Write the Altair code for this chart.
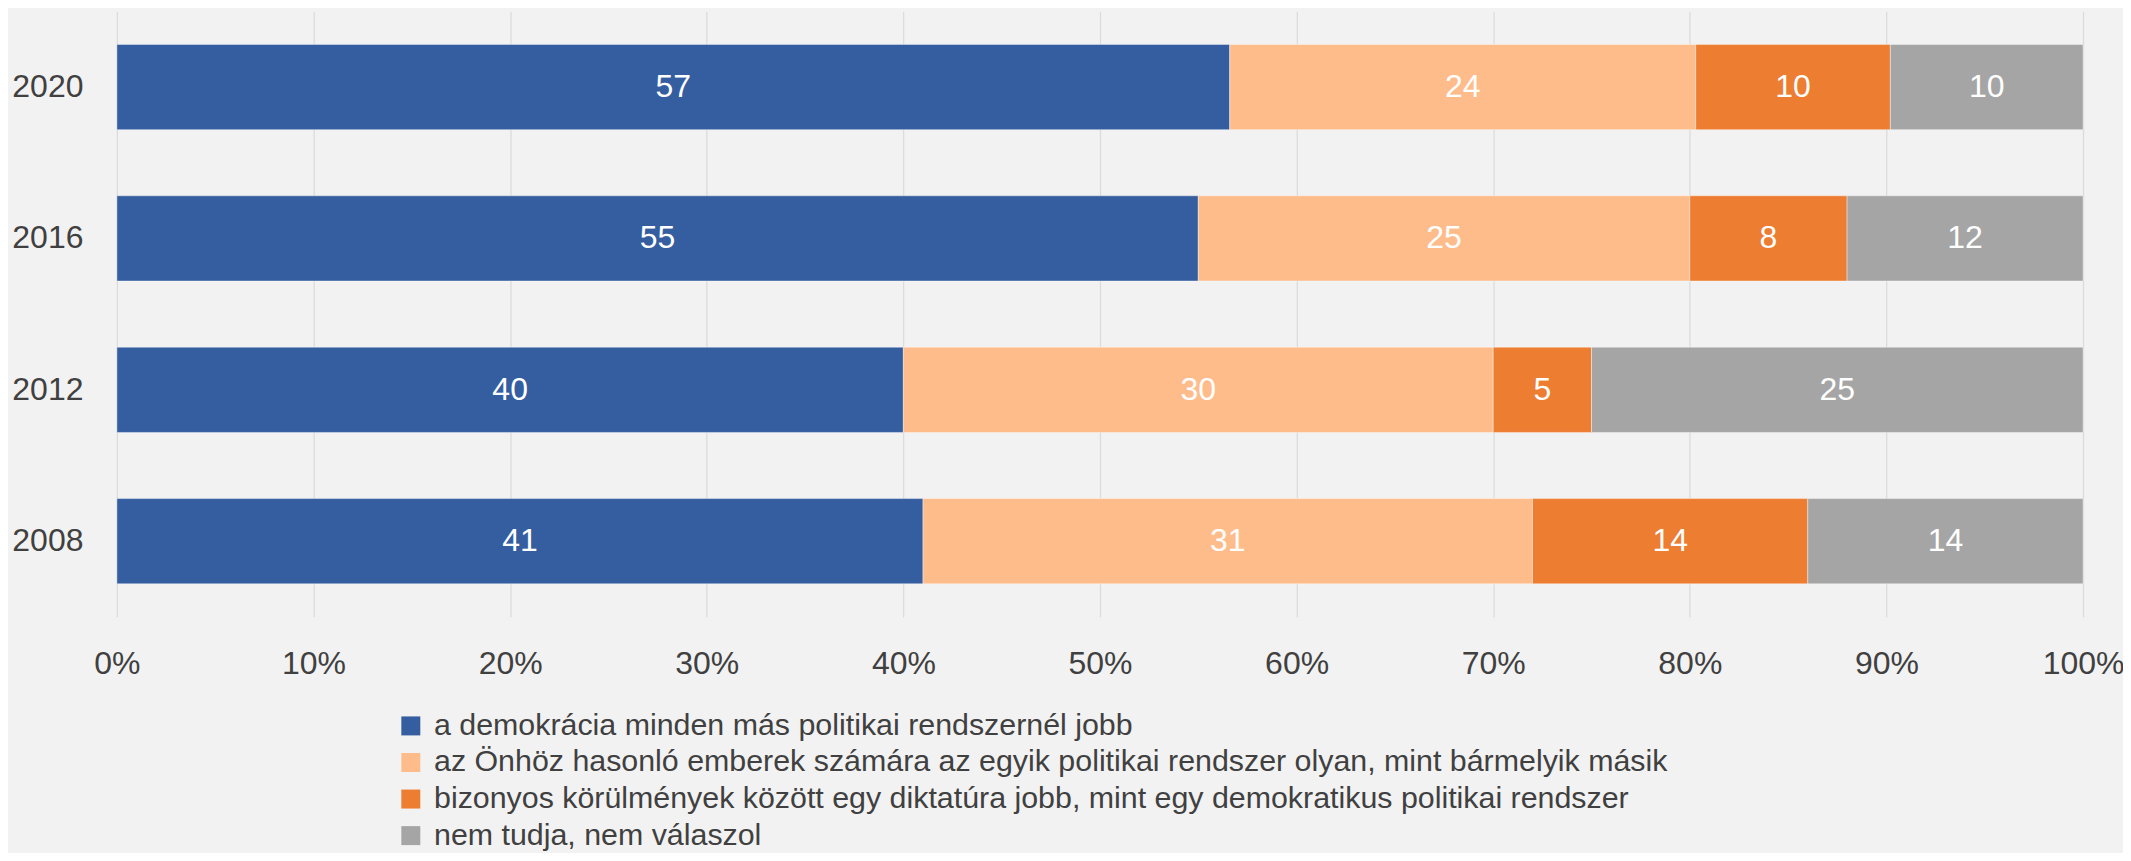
import altair as alt
import pandas as pd

years = ["2020", "2016", "2012", "2008"]
categories = [
    "a demokrácia minden más politikai rendszernél jobb",
    "az Önhöz hasonló emberek számára az egyik politikai rendszer olyan, mint bármelyik másik",
    "bizonyos körülmények között egy diktatúra jobb, mint egy demokratikus politikai rendszer",
    "nem tudja, nem válaszol",
]
colors = ["#355EA0", "#FFBC8B", "#ED7D31", "#A5A5A5"]

s_demo = [56.6, 55.0, 40.0, 41.0]
s_same = [23.7, 25.0, 30.0, 31.0]
s_dict = [9.9, 8.0, 5.0, 14.0]
s_na = [9.8, 12.0, 25.0, 14.0]
series = [s_demo, s_same, s_dict, s_na]

rows = []
for ci, (cat, vals) in enumerate(zip(categories, series)):
    for y, v in zip(years, vals):
        rows.append({"year": y, "cat": cat, "order": ci, "value": v})
df = pd.DataFrame(rows)

FONT = "Liberation Sans"
TXT = "#404040"

base = alt.Chart(df).transform_stack(
    stack="value", groupby=["year"], as_=["v0", "v1"],
    sort=[alt.SortField("order", order="ascending")], offset="normalize"
).transform_calculate(mid="(datum.v0 + datum.v1) / 2")

yenc = alt.Y("year:N", sort=years, title=None,
             scale=alt.Scale(paddingInner=0.437, paddingOuter=0.218),
             axis=alt.Axis(labelFont=FONT, labelFontSize=32, labelColor=TXT,
                           labelPadding=34, ticks=False, domain=False, grid=False))

bars = base.mark_bar(stroke="white", strokeWidth=0.8, strokeOpacity=0.5).encode(
    x=alt.X("v0:Q", title=None,
            scale=alt.Scale(domain=[0, 1], nice=False),
            axis=alt.Axis(format=".0%", values=[i / 10 for i in range(11)],
                          labelFont=FONT, labelFontSize=32, labelColor=TXT,
                          labelPadding=32, labelFlush=False, ticks=False,
                          domain=False, grid=True, gridColor="#DCDCDC",
                          gridWidth=1.3)),
    x2="v1:Q",
    y=yenc,
    color=alt.Color("cat:N", sort=categories,
                    scale=alt.Scale(domain=categories, range=colors),
                    legend=alt.Legend(title=None, orient="none", legendX=279,
                                      legendY=700, direction="vertical",
                                      symbolType="square", symbolSize=361,
                                      symbolStrokeWidth=0, labelFont=FONT,
                                      labelFontSize=30.4, labelColor=TXT,
                                      labelOffset=8, rowPadding=5.6,
                                      padding=0, labelLimit=2000)),
    order=alt.Order("order:Q"),
)

labels = base.mark_text(font=FONT, fontSize=32, color="white").encode(
    x=alt.X("mid:Q"),
    y=alt.Y("year:N", sort=years),
    text=alt.Text("value:Q", format=".0f"),
)

chart = alt.layer(bars, labels).properties(
    width=1968, height=606,
    background="#F2F2F2",
    padding={"left": 109, "top": 3, "right": 40, "bottom": 236},
    autosize=alt.AutoSizeParams(type="none"),
).configure_view(stroke=None)

chart.save("out.html", embed_options={"renderer": "svg", "actions": False})
